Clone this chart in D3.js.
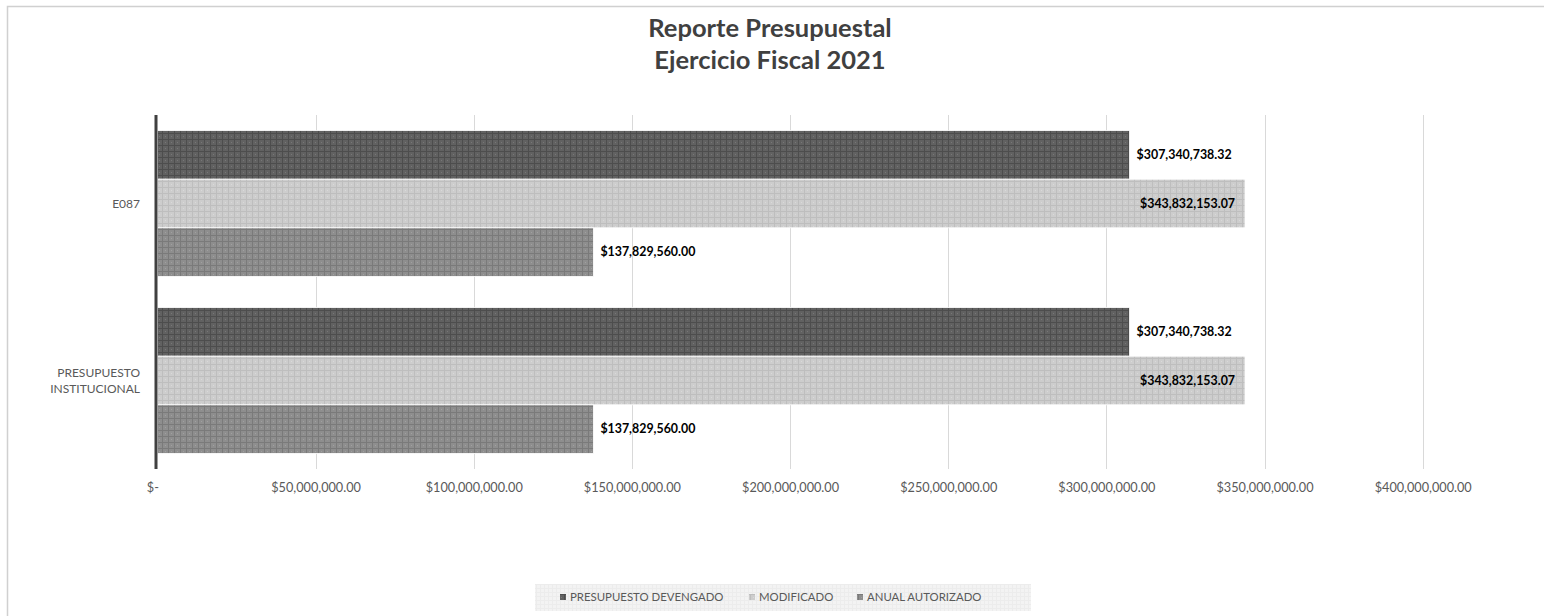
<!DOCTYPE html>
<html><head><meta charset="utf-8">
<script src="https://cdn.jsdelivr.net/npm/d3@7"></script>
<style>body{margin:0;background:#fff;}svg{display:block;font-family:Lato,sans-serif;}</style>
</head><body>
<svg id="c" width="1544" height="616"></svg>
<script>
const categories = ["E087", "PRESUPUESTO INSTITUCIONAL"];
const seriesNames = ["PRESUPUESTO DEVENGADO", "MODIFICADO", "ANUAL AUTORIZADO"];
const devengado = [307340738.32, 307340738.32];
const modificado = [343832153.07, 343832153.07];
const anualAutorizado = [137829560.00, 137829560.00];
const tickValues = [0, 50000000, 100000000, 150000000, 200000000, 250000000, 300000000, 350000000, 400000000];
const titleLines = ["Reporte Presupuestal", "Ejercicio Fiscal 2021"];

const seriesValues = [devengado, modificado, anualAutorizado];
const svg = d3.select("#c");
const defs = svg.append("defs");
const pat = [
  {id:"p0", base:"#616161", line:"#4d4d4d", dot:"#777"},
  {id:"p1", base:"#cdcdcd", line:"#bebebe", dot:"#d9d9d9"},
  {id:"p2", base:"#8e8e8e", line:"#7a7a7a", dot:"#a0a0a0"}
];
pat.forEach(p => {
  const g = defs.append("pattern").attr("id", p.id).attr("patternUnits","userSpaceOnUse")
    .attr("width",6).attr("height",6);
  g.append("rect").attr("width",6).attr("height",6).attr("fill",p.base);
  g.append("rect").attr("x",0).attr("y",0).attr("width",6).attr("height",1).attr("fill",p.line);
  g.append("rect").attr("x",0).attr("y",0).attr("width",1).attr("height",6).attr("fill",p.line);
  g.append("rect").attr("x",3).attr("y",3).attr("width",1).attr("height",1).attr("fill",p.dot);
});
const lp = defs.append("pattern").attr("id","lg").attr("patternUnits","userSpaceOnUse").attr("width",4).attr("height",4);
lp.append("rect").attr("width",4).attr("height",4).attr("fill","#f3f3f3");
lp.append("rect").attr("width",4).attr("height",1).attr("fill","#ececec");
lp.append("rect").attr("width",1).attr("height",4).attr("fill","#ececec");

// frame
svg.append("rect").attr("x",7.5).attr("y",6.5).attr("width",1560).attr("height",640)
  .attr("fill","none").attr("stroke","#d0d0d0").attr("stroke-width",1.5);

// title
svg.append("g").selectAll("text").data(titleLines).join("text")
  .attr("x",770).attr("y",(d,i)=>37+i*32).attr("text-anchor","middle")
  .attr("font-size",25.5).attr("font-weight","bold").attr("fill","#404040").text(d=>d);

const x = d3.scaleLinear().domain([0, 400000000]).range([157.4, 1422.7]);
const y = d3.scaleBand().domain(categories).range([115, 469]).paddingInner(0).paddingOuter(0);
const inner = d3.scaleBand().domain(seriesNames).range([0, y.bandwidth()]).paddingInner(0).paddingOuter(0.32);

// gridlines
svg.append("g").selectAll("line").data(tickValues.slice(1)).join("line")
  .attr("x1",d=>Math.round(x(d))+0.5).attr("x2",d=>Math.round(x(d))+0.5)
  .attr("y1",115).attr("y2",469).attr("stroke","#d9d9d9").attr("stroke-width",1);

// bars
const groups = svg.append("g").selectAll("g").data(categories).join("g")
  .attr("transform",c=>`translate(0,${y(c)})`);
groups.each(function(c, ci){
  const g = d3.select(this);
  seriesNames.forEach((s, si) => {
    const v = seriesValues[si][ci];
    g.append("rect").attr("x",x(0)).attr("y",inner(s)).attr("width",x(v)-x(0)).attr("height",inner.bandwidth())
      .attr("fill",`url(#p${si})`).attr("stroke","#fff").attr("stroke-width",0.8);
    const fmt = "$" + d3.format(",.2f")(v);
    const inside = si === 1;
    g.append("text").attr("x", inside ? x(v)-10 : x(v)+7).attr("y", inner(s)+inner.bandwidth()/2)
      .attr("dy","0.35em").attr("text-anchor", inside ? "end":"start")
      .attr("font-size",12.4).attr("font-weight","bold").attr("fill","#000").text(fmt);
  });
});

// axis line (vertical)
svg.append("line").attr("x1",156).attr("x2",156).attr("y1",115).attr("y2",469).attr("stroke","#404040").attr("stroke-width",3);

// x tick labels
const xAxis = d3.axisBottom(x).tickValues(tickValues).tickSize(0).tickPadding(0)
  .tickFormat(d => d === 0 ? "$-" : "$" + d3.format(",.2f")(d));
const ax = svg.append("g").attr("transform","translate(0,488)").call(xAxis);
ax.select(".domain").remove();
ax.selectAll("text").attr("font-size",12.7).attr("fill","#595959").attr("font-family","Lato, sans-serif")
  .attr("dy","0.35em");
ax.selectAll(".tick").filter(d=>d===0).select("text").attr("dx",-5);

// category labels
const catG = svg.append("g");
categories.forEach(c => {
  const words = c === "PRESUPUESTO INSTITUCIONAL" ? ["PRESUPUESTO","INSTITUCIONAL"] : [c];
  const cy = y(c) + y.bandwidth()/2;
  words.forEach((w,i) => {
    catG.append("text").attr("x",140).attr("y", cy + (i - (words.length-1)/2)*16)
      .attr("dy","0.35em").attr("text-anchor","end").attr("font-size",12).attr("fill","#595959").text(w);
  });
});

// legend
svg.append("rect").attr("x",535).attr("y",584).attr("width",496).attr("height",27).attr("fill","url(#lg)");
const legX = [560, 749, 857];
const lg = svg.append("g");
seriesNames.forEach((s,i) => {
  lg.append("rect").attr("x",legX[i]).attr("y",594).attr("width",6).attr("height",6).attr("fill",`url(#p${i})`);
  lg.append("text").attr("x",legX[i]+10).attr("y",597).attr("dy","0.35em").attr("font-size",11.4)
    .attr("fill","#595959").text(s);
});
</script>
</body></html>
